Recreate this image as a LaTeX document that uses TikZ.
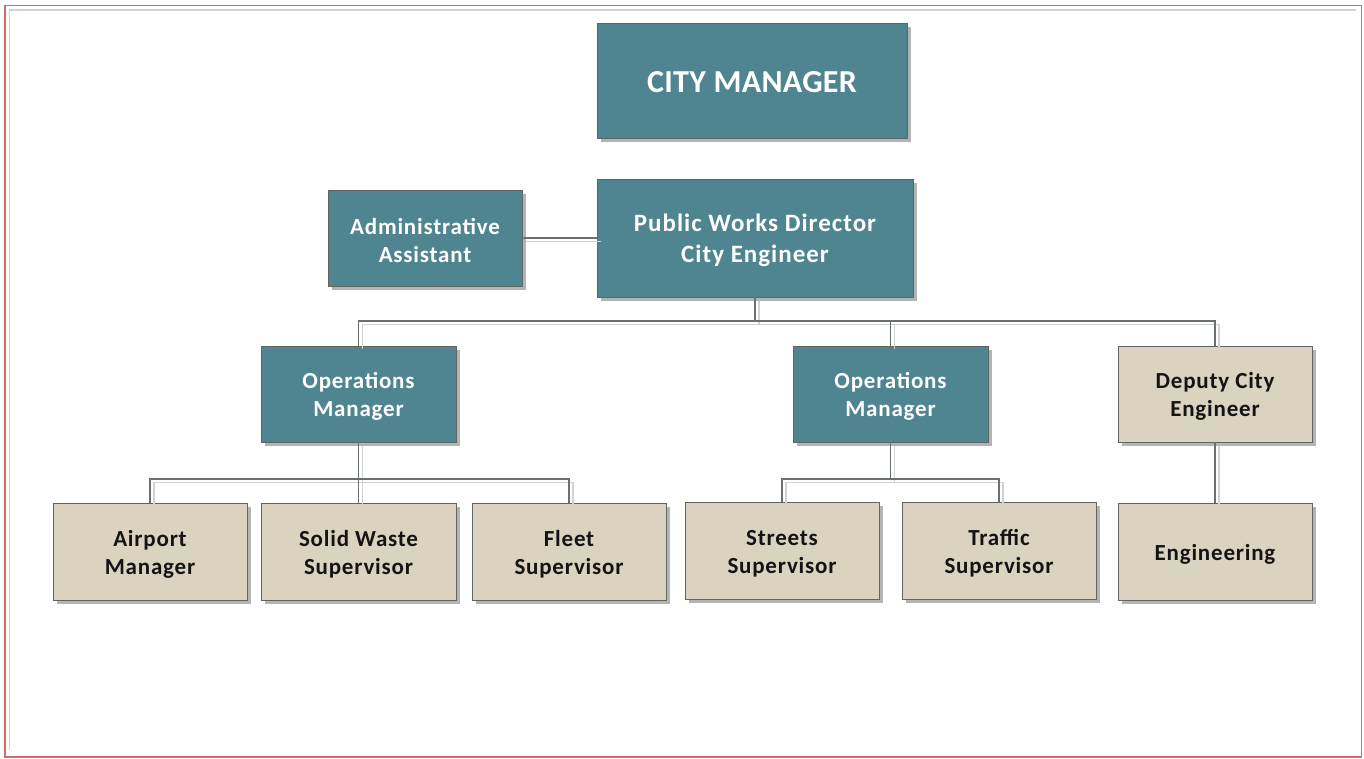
\documentclass[tikz,border=0pt]{standalone}
\usepackage{fontspec}
\setmainfont{Carlito}
\usetikzlibrary{shadows}
\definecolor{teal}{HTML}{4E8590}
\definecolor{sand}{HTML}{D9D3BF}
\definecolor{boxline}{HTML}{5F6660}
\definecolor{linkdark}{HTML}{6A716C}
\definecolor{linklight}{HTML}{D2D2D2}
\definecolor{frame}{HTML}{C9706C}
\definecolor{shade}{HTML}{B4B4B4}
\definecolor{ink}{HTML}{141414}
\newcommand{\unitfont}{\bfseries\fontsize{23}{28}\selectfont\addfontfeature{LetterSpace=3.5}}
% invisible strut: a taller first line sets the text block a little lower
\newcommand{\topstrut}[1][0.93em]{\rule{0pt}{#1}}
\tikzset{
  unit/.style={draw=boxline, line width=0.8pt, inner sep=0pt, align=center,
    font=\unitfont,
    drop shadow={shadow xshift=4pt, shadow yshift=-4pt, fill=shade, opacity=1}},
  head/.style={unit, fill=teal, text=white},
  staff/.style={unit, fill=sand, text=ink},
  linkfront/.style={draw=linkdark, line width=1.1pt},
  linkback/.style={draw=linklight, line width=1.4pt, transform canvas={xshift=4pt, yshift=-3.5pt}},
}
\begin{document}
\begin{tikzpicture}[x=1pt, y=-1pt]
\useasboundingbox (0,0) rectangle (1364,758);
\fill[white] (0,0) rectangle (1364,758);
% page frame
\draw[frame, line width=1.6pt] (5,5.5) rectangle (1361.5,757);
\draw[linklight, line width=1.2pt] (9.5,750) -- (9.5,10) -- (1356,10);

% boxes
\node[head, minimum width=310pt, minimum height=115pt,
      font=\bfseries\fontsize{32}{36}\selectfont\addfontfeature{LetterSpace=1}] (cm) at (752,80.5) {\topstrut[0.74em]CITY MANAGER};
\node[head, minimum width=316pt, minimum height=118pt,
      font=\bfseries\fontsize{25}{31}\selectfont\addfontfeature{LetterSpace=4}] (pwd) at (755,238) {\topstrut[0.85em]Public Works Director\\City Engineer};
\node[head, minimum width=194pt, minimum height=96pt] (aa) at (425,238) {\topstrut Administrative\\Assistant};
\node[head, minimum width=195pt, minimum height=96pt] (om1) at (358.5,394) {\topstrut Operations\\Manager};
\node[head, minimum width=195pt, minimum height=96pt] (om2) at (890.5,394) {\topstrut Operations\\Manager};
\node[staff, minimum width=194pt, minimum height=96pt] (dce) at (1215,394) {\topstrut Deputy City\\Engineer};
\node[staff, minimum width=194pt, minimum height=97pt] (apm) at (150,551.5) {\topstrut Airport\\Manager};
\node[staff, minimum width=195pt, minimum height=97pt] (sws) at (358.5,551.5) {\topstrut Solid Waste\\Supervisor};
\node[staff, minimum width=194pt, minimum height=97pt] (fls) at (569,551.5) {\topstrut Fleet\\Supervisor};
\node[staff, minimum width=194pt, minimum height=97pt] (sts) at (782,550.5) {\topstrut Streets\\Supervisor};
\node[staff, minimum width=194pt, minimum height=97pt] (trs) at (999,550.5) {\topstrut Traffic\\Supervisor};
\node[staff, minimum width=194pt, minimum height=97pt] (eng) at (1215,551.5) {\topstrut Engineering};

% connectors: pale offset line behind, dark line in front
\foreach \s in {linkback, linkfront}{
  \draw[\s] (aa.east) -- (pwd.west);
  \draw[\s] (pwd.south) -- (pwd.south |- 0,321) -| (om1.north);
  \draw[\s] (pwd.south |- 0,321) -| (om2.north);
  \draw[\s] (pwd.south |- 0,321) -| (dce.north);
  \draw[\s] (om1.south) -- (om1.south |- 0,479) -| (apm.north);
  \draw[\s] (om1.south |- 0,479) -| (fls.north);
  \draw[\s] (om1.south) -- (sws.north);
  \draw[\s] (om2.south) -- (om2.south |- 0,479) -| (sts.north);
  \draw[\s] (om2.south |- 0,479) -| (trs.north);
  \draw[\s] (dce.south) -- (eng.north);
}
\end{tikzpicture}
\end{document}
